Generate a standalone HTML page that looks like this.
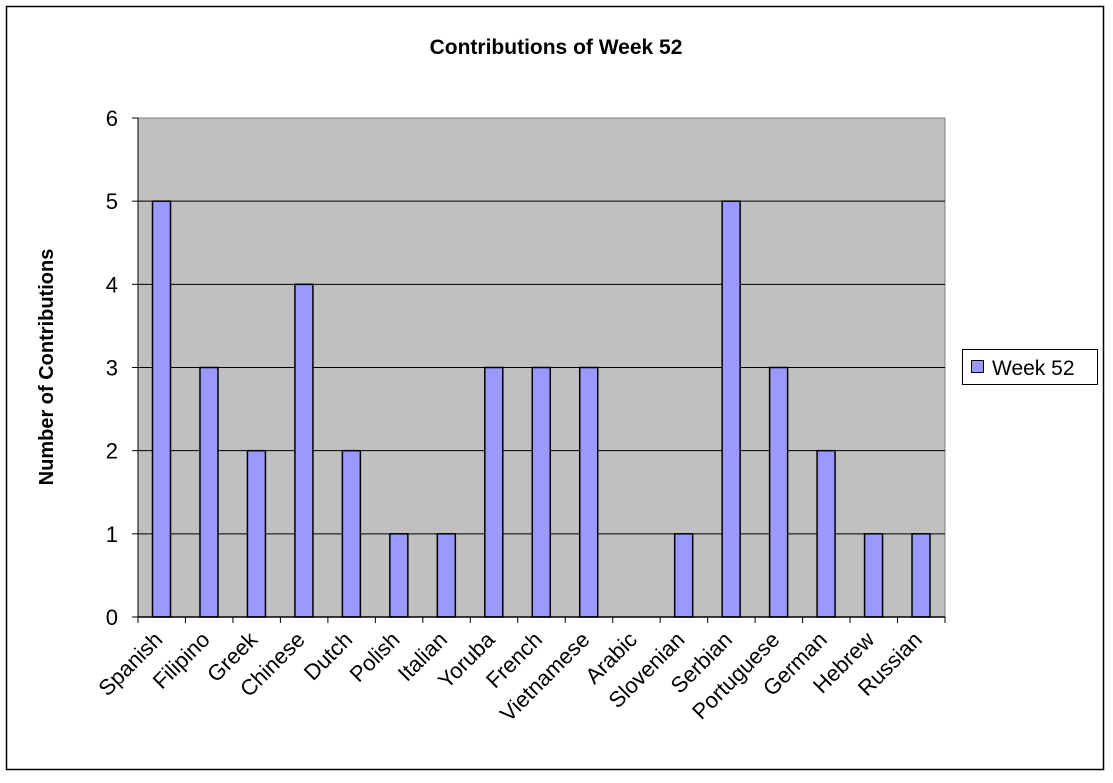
<!DOCTYPE html>
<html><head><meta charset="utf-8"><style>
body{margin:0;background:#fff;}
svg text{font-family:"Liberation Sans",Arial,sans-serif;}
</style></head><body>
<svg width="1113" height="778" xmlns="http://www.w3.org/2000/svg">
<rect x="6.5" y="6.5" width="1097" height="763" fill="#fff" stroke="#000" stroke-width="1.5"/>
<text x="556" y="54" text-anchor="middle" font-size="21" font-weight="bold">Contributions of Week 52</text>
<rect x="138" y="118" width="807" height="499" fill="#c0c0c0" stroke="#808080"/>
<g id="grid"></g><g id="bars"></g><g id="axes"></g>
<text transform="translate(53,367) rotate(-90)" text-anchor="middle" font-size="20" font-weight="bold">Number of Contributions</text>
<g>
<rect x="962.5" y="349.5" width="135" height="35" fill="#fff" stroke="#000"/>
<rect x="971.5" y="360.5" width="12" height="12" fill="#9999ff" stroke="#000"/>
<text x="992" y="375" font-size="21">Week 52</text>
</g>
</svg>
<script>
const categories=["Spanish","Filipino","Greek","Chinese","Dutch","Polish","Italian","Yoruba","French","Vietnamese","Arabic","Slovenian","Serbian","Portuguese","German","Hebrew","Russian"];
const values=[5,3,2,4,2,1,1,3,3,3,0,1,5,3,2,1,1];
const yTicks=[0,1,2,3,4,5,6];
const NS="http://www.w3.org/2000/svg";
const x0=138,x1=945,y0=617,y1=118,yMax=6;
const band=(x1-x0)/categories.length;
const y=v=>y0-(v/yMax)*(y0-y1);
const xs=i=>x0+i*band;
function mk(t,a,p){const e=document.createElementNS(NS,t);for(const k in a)e.setAttribute(k,a[k]);document.getElementById(p).appendChild(e);return e;}
yTicks.forEach(v=>{
 if(v>0&&v<yMax){const l=mk('line',{x1:x0,x2:x1,y1:y(v),y2:y(v),stroke:'#000','stroke-width':1},'grid');
 
 }
 const tk=mk('line',{x1:x0-6,x2:x0,y1:y(v),y2:y(v),stroke:'#000'},'axes');
 
 
 const t=mk('text',{x:x0-20,y:y(v)+8,'text-anchor':'end','font-size':22},'axes');
 t.textContent=v;
 
 
});
categories.forEach((c,i)=>{
 const v=values[i];
 if(v>0){const r=mk('rect',{x:xs(i)+14.5,y:y(v),width:18,height:y0-y(v),fill:'#9999ff',stroke:'#000','stroke-width':1.5},'bars');
 
 }
 const tk=mk('line',{x1:xs(i),x2:xs(i),y1:y0,y2:y0+6,stroke:'#000'},'axes');
 
 
 const cx=xs(i)+band/2+2, cy=y0+24;
 const t=mk('text',{x:cx,y:cy,'text-anchor':'end','font-size':22,transform:`rotate(-45 ${cx} ${cy})`},'axes');
 t.textContent=c;
 
 
});
const last=mk('line',{x1:x1,x2:x1,y1:y0,y2:y0+6,stroke:'#000'},'axes');


const ax=mk('line',{x1:x0,x2:x1,y1:y0,y2:y0,stroke:'#000','stroke-width':1.5},'axes');


const ay=mk('line',{x1:x0,x2:x0,y1:y1,y2:y0,stroke:'#000','stroke-width':1},'axes');


</script>
</body></html>
